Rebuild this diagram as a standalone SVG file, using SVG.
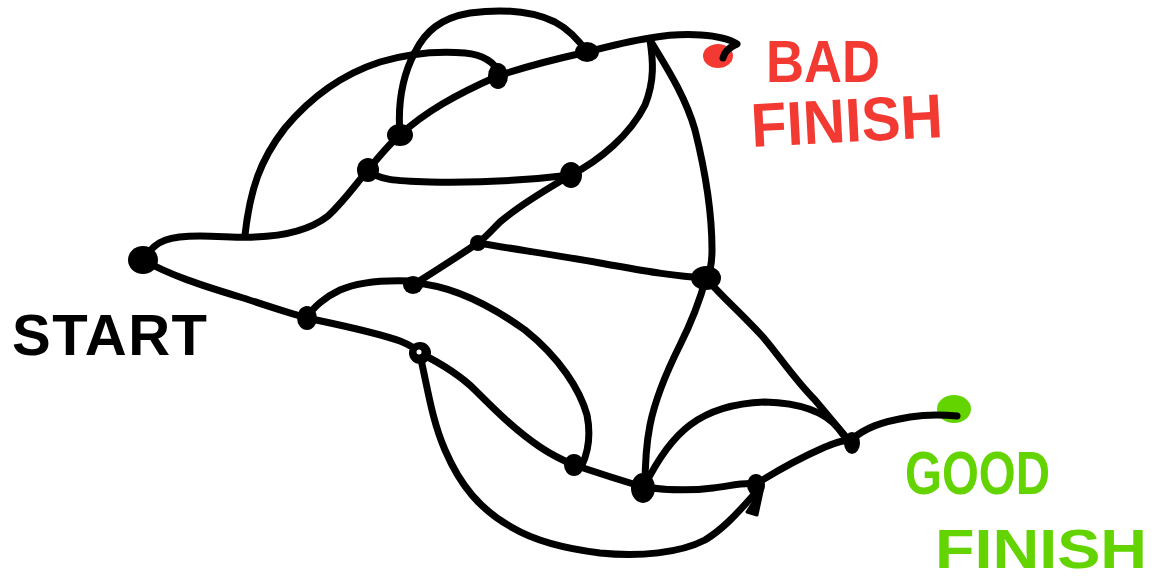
<svg xmlns="http://www.w3.org/2000/svg" width="1159" height="582" viewBox="0 0 1159 582">
<style>
.e{fill:none;stroke:#000;stroke-width:7;stroke-linecap:round;stroke-linejoin:round}
.d{fill:#000}
.lbl{font-family:"Liberation Sans",Arial,sans-serif;font-weight:700}
</style>
<rect width="1159" height="582" fill="#fff"/>
<g id="bad-finish">
<ellipse cx="718" cy="56" rx="15" ry="12" fill="#f23a33"/>
<text class="lbl" x="766" y="82" font-size="60" fill="#f23a33" textLength="114" lengthAdjust="spacingAndGlyphs">BAD</text>
<text class="lbl" x="752" y="147" font-size="62" fill="#f23a33" textLength="192" lengthAdjust="spacingAndGlyphs" transform="rotate(-3 752 147)">FINISH</text>
</g>
<g id="good-finish">
<ellipse cx="954" cy="409" rx="17" ry="14" fill="#63d400"/>
<text class="lbl" x="905" y="494" font-size="62" fill="#63d400" textLength="145" lengthAdjust="spacingAndGlyphs">GOOD</text>
<text class="lbl" x="935" y="568" font-size="56" fill="#63d400" textLength="212" lengthAdjust="spacingAndGlyphs">FINISH</text>
</g>
<g id="connectors">
<path class="e" d="M145,258 C155,240 170,236 200,236 C220,236 240,238 255,237 C285,236 310,230 328,216 C345,200 355,185 368,170"/>
<path class="e" d="M245,235 C250,190 260,160 285,128 C310,98 340,75 380,62 C410,53 440,51 465,53 C485,55 495,63 500,74"/>
<path class="e" d="M368,170 C378,158 388,145 400,135 C425,112 455,95 498,76 C530,65 560,58 587,52 C610,46 630,41 650,38 C685,32 722,34 737,44 C731,47 725,50 723,58"/>
<path class="e" d="M400,135 C398,110 400,80 415,52 C425,32 440,18 470,13 C500,9 530,10 555,22 C570,30 580,42 587,52"/>
<path class="e" d="M368,170 C378,180 395,181 430,182 C480,183 530,180 571,175"/>
<path class="e" d="M571,175 C600,160 630,135 645,105 C655,80 653,60 650,40"/>
<path class="e" d="M650,40 C665,65 685,95 695,130 C705,170 712,215 712,250 C712,265 710,273 706,278"/>
<path class="e" d="M571,175 C545,190 520,205 500,222 C490,232 485,238 478,243 C460,255 440,268 413,285"/>
<path class="e" d="M413,281 C390,280 360,281 340,290 C325,297 312,308 307,318"/>
<path class="e" d="M478,243 C520,250 560,256 600,263 C640,270 670,276 706,278"/>
<path class="e" d="M143,260 C170,275 200,285 240,297 C265,305 285,312 307,318 C340,325 375,332 400,341 C410,345 415,348 420,353 C440,363 460,375 475,390 C495,410 515,430 540,447 C552,455 562,460 574,465"/>
<path class="e" d="M413,283 C450,285 490,305 525,330 C560,358 580,390 587,415 C591,435 588,452 582,465"/>
<path class="e" d="M420,355 C428,390 432,420 445,450 C460,485 480,510 513,528 C530,538 560,548 600,553 C640,557 680,553 705,540 C725,528 740,510 758,490"/>
<polygon points="747,512 757,515 763,487" fill="#000" stroke="#000" stroke-width="3" stroke-linejoin="round"/>
<path class="e" d="M574,465 C595,472 620,480 643,487 C665,490 690,491 713,488 C730,486 745,482 756,484 C775,472 800,458 825,447 C835,443 842,440 851,440 C865,428 880,422 910,417 C930,414 945,415 957,416"/>
<path class="e" d="M706,278 C700,300 690,325 680,345 C665,375 655,400 650,425 C646,445 645,465 645,488"/>
<path class="e" d="M706,278 C720,295 740,312 763,337 C780,357 795,380 815,400 C830,418 842,432 851,443"/>
<path class="e" d="M645,485 C655,465 670,440 690,425 C710,410 735,403 765,402 C800,403 825,412 838,428 L847,440"/>
</g>
<g id="start">
<ellipse class="d" cx="143" cy="260" rx="15" ry="14"/>
<text class="lbl" x="12" y="355" font-size="58" fill="#000" textLength="195" lengthAdjust="spacing">START</text>
</g>
<g id="n-b"><ellipse class="d" cx="368" cy="170" rx="11" ry="12"/></g>
<g id="n-c"><ellipse class="d" cx="400" cy="135" rx="13" ry="11"/></g>
<g id="n-d"><ellipse class="d" cx="498" cy="76" rx="10" ry="13"/></g>
<g id="n-e"><ellipse class="d" cx="587" cy="52" rx="12" ry="10"/></g>
<g id="n-g"><ellipse class="d" cx="571" cy="175" rx="11" ry="13"/></g>
<g id="n-h"><ellipse class="d" cx="478" cy="243" rx="8" ry="8"/></g>
<g id="n-i"><ellipse class="d" cx="413" cy="285" rx="10" ry="9"/></g>
<g id="n-j"><ellipse class="d" cx="307" cy="318" rx="10" ry="12"/></g>
<g id="n-k"><ellipse class="d" cx="420" cy="353" rx="11" ry="11"/><circle cx="419" cy="352" r="2.5" fill="#fff"/></g>
<g id="n-l"><ellipse class="d" cx="706" cy="278" rx="15" ry="12"/></g>
<g id="n-m"><ellipse class="d" cx="574" cy="465" rx="10" ry="11"/></g>
<g id="n-n"><ellipse class="d" cx="643" cy="488" rx="12" ry="15"/></g>
<g id="n-o"><ellipse class="d" cx="756" cy="485" rx="9" ry="11"/></g>
<g id="n-p"><ellipse class="d" cx="852" cy="443" rx="8" ry="11"/></g>
</svg>
